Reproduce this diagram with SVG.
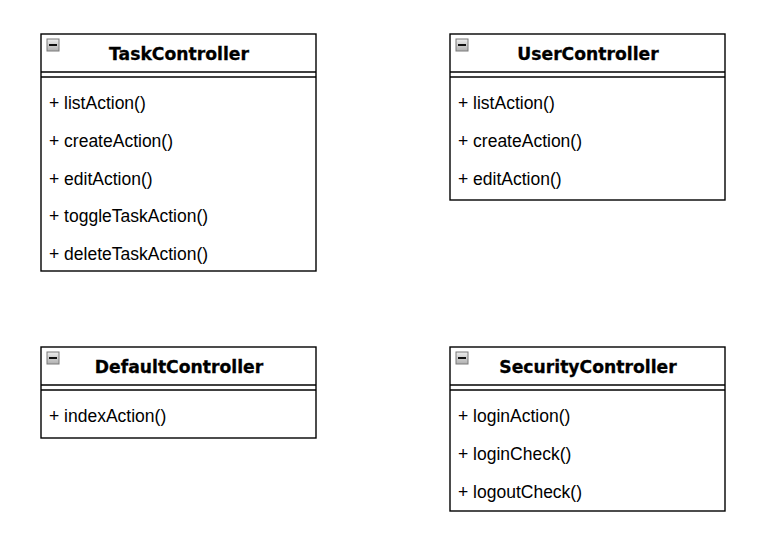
<svg xmlns="http://www.w3.org/2000/svg" width="773" height="539" viewBox="0 0 773 539">
<style>
.box{fill:#fff;stroke:#000;stroke-width:1.4}
.ln{stroke:#000;stroke-width:1.4}
.t{font-family:"DejaVu Sans",Verdana,sans-serif;font-weight:bold;font-size:17.2px;text-anchor:middle;fill:#000;stroke:#000;stroke-width:0.3}
.m{font-family:"Liberation Sans",Arial,sans-serif;font-size:17.5px;fill:#000}
.ic{fill:url(#g);stroke:#7a7a7a;stroke-width:1}
.icm{stroke:#111;stroke-width:2}
</style>
<defs>
<linearGradient id="g" x1="0" y1="0" x2="0" y2="1"><stop offset="0" stop-color="#eeeeee"/><stop offset="1" stop-color="#b0b0b0"/></linearGradient>
<g id="icon"><rect class="ic" x="0.5" y="0.5" width="12" height="12"/><line class="icm" x1="2.5" y1="6.5" x2="10.5" y2="6.5"/></g>
</defs>
<g id="connectors"/>
<g id="TaskController">
<rect class="box" x="41" y="34" width="275" height="237"/>
<line class="ln" x1="41" y1="72" x2="316" y2="72"/>
<line class="ln" x1="41" y1="77" x2="316" y2="77"/>
<use href="#icon" x="46.5" y="38.5"/>
<text class="t" x="179" y="60">TaskController</text>
<text class="m" x="49" y="108.5">+ listAction()</text>
<text class="m" x="49" y="146.5">+ createAction()</text>
<text class="m" x="49" y="184.5">+ editAction()</text>
<text class="m" x="49" y="221.5">+ toggleTaskAction()</text>
<text class="m" x="49" y="259.5">+ deleteTaskAction()</text>
</g>
<g id="UserController">
<rect class="box" x="450" y="34" width="275" height="166"/>
<line class="ln" x1="450" y1="72" x2="725" y2="72"/>
<line class="ln" x1="450" y1="77" x2="725" y2="77"/>
<use href="#icon" x="455.5" y="38.5"/>
<text class="t" x="588" y="60">UserController</text>
<text class="m" x="458" y="108.5">+ listAction()</text>
<text class="m" x="458" y="146.5">+ createAction()</text>
<text class="m" x="458" y="184.5">+ editAction()</text>
</g>
<g id="DefaultController">
<rect class="box" x="41" y="347" width="275" height="91"/>
<line class="ln" x1="41" y1="385" x2="316" y2="385"/>
<line class="ln" x1="41" y1="390" x2="316" y2="390"/>
<use href="#icon" x="46.5" y="351.5"/>
<text class="t" x="179" y="373">DefaultController</text>
<text class="m" x="49" y="421.5">+ indexAction()</text>
</g>
<g id="SecurityController">
<rect class="box" x="450" y="347" width="275" height="164"/>
<line class="ln" x1="450" y1="385" x2="725" y2="385"/>
<line class="ln" x1="450" y1="390" x2="725" y2="390"/>
<use href="#icon" x="455.5" y="351.5"/>
<text class="t" x="588" y="373">SecurityController</text>
<text class="m" x="458" y="421.5">+ loginAction()</text>
<text class="m" x="458" y="459.5">+ loginCheck()</text>
<text class="m" x="458" y="497.5">+ logoutCheck()</text>
</g>
</svg>
